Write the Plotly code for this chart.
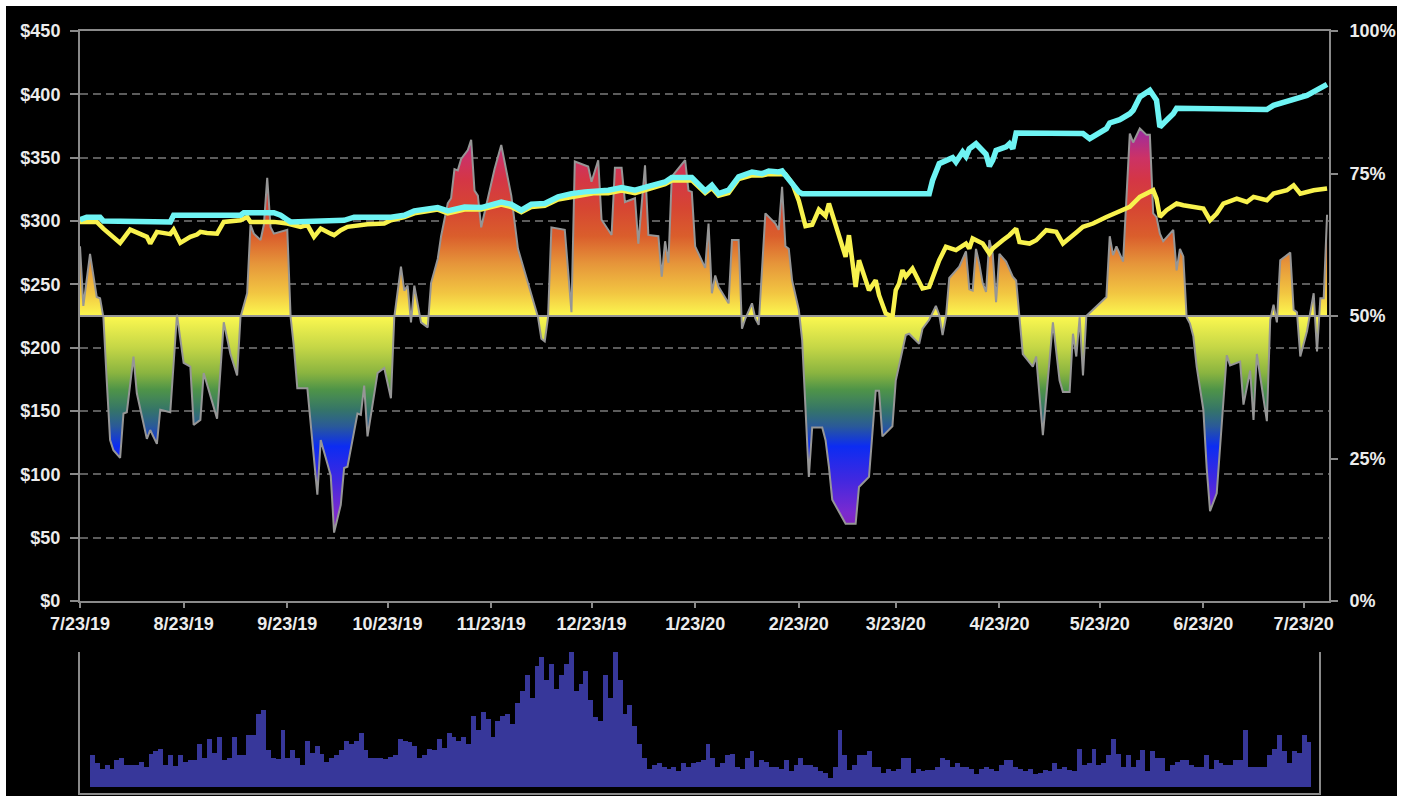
import pandas as pd
import plotly.graph_objects as go

# ---------------- data ----------------
START = pd.Timestamp("2019-07-23")
END = pd.Timestamp("2020-07-30 14:00")

# oscillator (plotted on the $ scale, 50% = $225), day offsets from 7/23/19
osc_day = [0, 1, 3, 5, 6, 7, 8, 9, 10, 12, 13, 14, 16, 17, 20, 21, 23, 24, 27, 29,
           31, 33, 34, 36, 37, 41, 43, 45, 47, 48, 50, 51, 52, 54, 55, 56, 57, 58, 62, 63,
           64, 65, 68, 70, 71, 72, 75, 76, 78, 79, 80, 83, 84, 85, 86, 89, 91, 93, 94, 96,
           97, 98, 99, 100, 102, 104, 105, 107, 108, 110, 111, 112, 113, 114, 116, 117, 118, 119, 120, 122,
           124, 126, 129, 131, 134, 137, 138, 139, 140, 141, 145, 147, 148, 152, 153, 155, 156, 159, 160, 162,
           163, 166, 167, 169, 170, 173, 174, 175, 176, 177, 181, 182, 183, 184, 187, 188, 189, 190, 191, 194,
           195, 197, 198, 199, 201, 202, 203, 204, 205, 208, 209, 210, 211, 212, 213, 215, 216, 218, 219, 222,
           223, 224, 225, 229, 232, 233, 236, 238, 239, 240, 243, 244, 247, 248, 250, 251, 252, 254, 256, 257,
           258, 259, 260, 263, 265, 266, 267, 268, 269, 270, 271, 272, 273, 274, 275, 277, 279, 280, 281, 282,
           285, 286, 288, 291, 293, 294, 296, 297, 298, 299, 300, 301, 307, 308, 309, 310, 312, 314, 315, 317,
           319, 320, 321, 322, 323, 324, 327, 328, 329, 330, 331, 332, 333, 334, 336, 337, 338, 340, 343, 344,
           347, 348, 350, 351, 352, 355, 356, 357, 358, 359, 362, 363, 364, 365, 367, 369, 370, 371, 372, 373]
osc_val = [280, 233, 274, 240, 239, 224, 174, 127, 119, 113, 148, 149, 193, 164, 128, 135, 124, 151, 149, 226,
           188, 185, 139, 143, 180, 144, 220, 195, 178, 224, 243, 297, 290, 285, 297, 334, 295, 290, 293, 224,
           200, 168, 168, 109, 84, 127, 99, 54, 76, 105, 106, 148, 147, 170, 130, 180, 184, 160, 224, 264,
           245, 249, 220, 249, 220, 216, 251, 270, 288, 314, 318, 341, 340, 349, 356, 364, 324, 320, 295, 318,
           341, 360, 320, 278, 251, 224, 207, 205, 224, 295, 293, 228, 347, 343, 331, 348, 301, 289, 342, 342,
           315, 318, 282, 344, 289, 288, 256, 284, 267, 335, 348, 324, 323, 280, 263, 298, 243, 257, 248, 235,
           285, 285, 215, 223, 235, 223, 218, 264, 306, 298, 293, 327, 280, 278, 253, 230, 206, 98, 137, 137,
           127, 106, 80, 61, 61, 90, 98, 166, 166, 130, 138, 174, 210, 211, 206, 203, 215, 222, 233, 226,
           210, 224, 255, 264, 276, 246, 245, 278, 266, 251, 244, 285, 274, 236, 274, 268, 256, 253, 224, 195,
           185, 193, 131, 220, 174, 165, 165, 211, 193, 224, 178, 225, 240, 288, 273, 280, 268, 369, 362, 373,
           368, 368, 306, 303, 290, 284, 293, 261, 278, 272, 224, 219, 209, 185, 151, 105, 71, 85, 194, 186,
           189, 155, 182, 143, 195, 142, 222, 234, 220, 269, 275, 230, 228, 193, 213, 243, 197, 239, 239, 305]

# cyan series ($)
cyan_day = [0, 2, 6, 7, 27, 28, 48, 49, 58, 60, 62, 63, 79, 82, 93, 97, 100, 105, 107, 110,
            115, 120, 123, 126, 129, 132, 135, 139, 143, 147, 151, 154, 158, 162, 166, 170, 175, 177, 183, 187,
            189, 191, 194, 197, 201, 204, 206, 209, 210, 215, 216, 254, 255, 257, 259, 261, 262, 264, 265, 266,
            268, 269, 271, 272, 273, 274, 277, 278, 279, 280, 298, 300, 302, 304, 307, 308, 311, 314, 315, 317,
            319, 320, 322, 323, 325, 327, 328, 355, 357, 362, 367, 373]
cyan_val = [301, 303, 303, 300, 299.3, 304.5, 304.5, 306.5, 306.5, 304.5, 301, 299.3, 300.5, 303, 303, 304.5, 308, 309.8, 310.6, 308,
            311, 310.6, 313.2, 315, 313.2, 308.5, 313.2, 313.8, 319, 321.6, 323, 323.7, 324.3, 326.4, 324.3, 327.4, 330.8, 334.3, 334.3, 323.7,
            328.2, 321.6, 324.3, 334.8, 338.7, 337.4, 339.5, 338.7, 339.5, 323, 321.6, 321.6, 332, 345.3, 348, 350, 346.6, 354.5, 351, 357,
            361, 358.5, 352.7, 343.2, 348, 355.8, 358.5, 361, 357, 369.5, 369.5, 369, 365, 367.7, 372.9, 377.4, 380, 384.7, 387.4, 397.9,
            401, 403.2, 395.3, 374.2, 379.5, 384.7, 389, 388, 391.3, 395.3, 399.2, 407.9]

# yellow series ($)
yel_day = [0, 5, 7, 12, 15, 20, 21, 23, 27, 28, 30, 33, 35, 36, 38, 41, 43, 48, 50, 51,
           58, 62, 66, 68, 70, 72, 75, 76, 78, 80, 86, 91, 93, 97, 100, 105, 107, 110, 115, 120,
           123, 126, 129, 132, 135, 139, 143, 147, 151, 154, 158, 162, 166, 170, 175, 177, 183, 187, 189, 191,
           194, 197, 201, 204, 206, 209, 211, 213, 215, 217, 219, 221, 223, 224, 227, 229, 230, 232, 233, 235,
           236, 238, 239, 241, 243, 244, 245, 246, 247, 249, 252, 254, 257, 259, 262, 265, 266, 267, 270, 272,
           273, 276, 278, 280, 281, 284, 286, 289, 292, 294, 296, 298, 300, 303, 307, 312, 314, 317, 319, 321,
           322, 323, 325, 328, 330, 333, 336, 338, 340, 342, 346, 349, 351, 355, 357, 361, 363, 365, 369, 373]
yel_val = [299.3, 299.3, 294, 282.7, 293.2, 287.5, 282.2, 291.4, 289.6, 293.2, 282.7, 287.5, 289.3, 291.4, 290.6, 290, 299.3, 300.6, 303.2, 299.3,
           299.3, 298, 295.4, 297, 287.5, 294, 290, 288.8, 292.7, 295.4, 297.5, 298, 300.6, 303, 306, 308, 309, 306, 309, 309,
           311, 313, 311, 307, 311, 312, 317, 319, 321, 322, 322, 324, 322, 325, 329, 332, 332, 322, 326, 320,
           322, 333, 336, 336, 337, 337, 337, 330, 316, 296, 297, 309, 304, 313.8, 287.5, 271.7, 288.8, 248, 269, 253.3,
           245.4, 253.3, 241.4, 227, 224.4, 245.4, 250.6, 261.2, 256, 262.5, 246.7, 248, 269, 279.6, 277, 282.2, 278.3, 286.2, 282.2, 274.3,
           278.3, 284.8, 288.8, 294, 283.5, 282.2, 284.8, 292.7, 291.4, 282.2, 286.2, 291, 295.4, 298, 303.2, 308.5, 311.1, 319, 321.6, 324.3,
           317.7, 303.2, 308.5, 313.8, 312.4, 311.1, 309.8, 300.6, 305.9, 313.8, 317.7, 315, 319, 316.4, 321.6, 324.3, 328.2, 321.6, 324.3, 325.6]

# daily volume (relative units), one value per trading day from 7/23/19
volume = [95, 73, 55, 67, 55, 80, 88, 67, 67, 67, 75, 60, 100, 108, 115, 67, 95, 62, 95, 75,
          80, 82, 130, 88, 143, 102, 150, 82, 88, 150, 95, 95, 157, 157, 220, 232, 110, 88, 85, 172,
          88, 110, 88, 67, 137, 102, 122, 100, 75, 88, 95, 110, 137, 130, 138, 163, 110, 88, 88, 88,
          83, 90, 97, 144, 137, 135, 122, 88, 95, 115, 110, 144, 117, 163, 150, 138, 150, 130, 212, 172,
          226, 205, 150, 197, 212, 218, 190, 253, 288, 335, 268, 362, 390, 320, 370, 295, 335, 368, 404, 288,
          308, 348, 260, 210, 198, 335, 268, 404, 320, 218, 245, 183, 128, 88, 55, 67, 73, 60, 55, 60,
          48, 73, 60, 73, 75, 82, 128, 88, 60, 73, 95, 100, 60, 55, 88, 108, 60, 80, 75, 60,
          60, 55, 80, 48, 65, 88, 65, 67, 60, 48, 42, 28, 60, 172, 95, 52, 67, 95, 95, 108,
          60, 60, 42, 53, 48, 55, 88, 88, 42, 55, 48, 52, 52, 60, 88, 80, 60, 73, 60, 60,
          55, 40, 53, 60, 53, 48, 67, 80, 80, 60, 55, 48, 53, 40, 42, 52, 48, 73, 55, 60,
          52, 48, 115, 67, 73, 115, 67, 73, 95, 143, 100, 60, 95, 60, 80, 110, 48, 108, 88, 88,
          48, 67, 75, 80, 80, 67, 60, 60, 95, 55, 80, 73, 67, 67, 80, 82, 172, 60, 60, 60,
          60, 95, 115, 157, 108, 73, 108, 102, 157, 135]

MID_LEVEL = 225  # 50% line on the $ scale

left_tick_vals = [0, 50, 100, 150, 200, 250, 300, 350, 400, 450]
left_tick_text = ["$0", "$50", "$100", "$150", "$200", "$250", "$300", "$350", "$400", "$450"]
right_tick_vals = [0, 25, 50, 75, 100]
right_tick_text = ["0%", "25%", "50%", "75%", "100%"]
x_tick_dates = ["2019-07-23", "2019-08-23", "2019-09-23", "2019-10-23", "2019-11-23", "2019-12-23",
                "2020-01-23", "2020-02-23", "2020-03-23", "2020-04-23", "2020-05-23", "2020-06-23", "2020-07-23"]
x_tick_text = ["7/23/19", "8/23/19", "9/23/19", "10/23/19", "11/23/19", "12/23/19",
               "1/23/20", "2/23/20", "3/23/20", "4/23/20", "5/23/20", "6/23/20", "7/23/20"]
holidays = ["2019-09-02", "2019-11-28", "2019-12-25", "2020-01-01", "2020-01-20",
            "2020-02-17", "2020-04-10", "2020-05-25", "2020-07-03"]

# ---------------- build ----------------
def to_dates(days):
    return [START + pd.Timedelta(days=d) for d in days]

osc_dates = to_dates(osc_day)
cyan_dates = to_dates(cyan_day)
yel_dates = to_dates(yel_day)
trading_days = pd.bdate_range(START, "2020-07-31", freq="C", holidays=holidays)
vol_cats = [d.strftime("%Y-%m-%d") for d in trading_days[:len(volume)]]

GRAY = "#969696"
AXIS = "#8a8a8a"
CYAN = "#6ef4f4"
YELLOW = "#f8f24e"
BAR = "#37379a"
TXT = "#ececec"
GRAD = [
    [0.0, "#8228c0"], [0.1356, "#8228c0"], [0.1556, "#7a2ad0"], [0.2133, "#4028e0"],
    [0.2711, "#0c2cf2"], [0.3067, "#2a5a98"], [0.3356, "#357568"], [0.3711, "#4f9448"],
    [0.40, "#8ab440"], [0.4444, "#c4d646"], [0.50, "#fcf850"], [0.54, "#f2c642"],
    [0.5911, "#e6963a"], [0.64, "#da5e2c"], [0.6889, "#d64632"], [0.74, "#d43646"],
    [0.7778, "#cc3266"], [0.8267, "#9c2ca0"], [1.0, "#9c2ca0"],
]

fig = go.Figure()
# invisible base for the fill
fig.add_trace(go.Scatter(x=[osc_dates[0], osc_dates[-1]], y=[MID_LEVEL, MID_LEVEL], mode="lines",
                         line=dict(width=0, color="rgba(0,0,0,0)"), hoverinfo="skip", showlegend=False))
fig.add_trace(go.Scatter(x=osc_dates, y=osc_val, mode="lines", line=dict(color=GRAY, width=2),
                         fill="tonexty",
                         fillgradient=dict(type="vertical", colorscale=GRAD, start=0, stop=450),
                         showlegend=False))
# 50% line
fig.add_trace(go.Scatter(x=[START, END], y=[MID_LEVEL, MID_LEVEL], mode="lines",
                         line=dict(color=GRAY, width=2), hoverinfo="skip", showlegend=False))
fig.add_trace(go.Scatter(x=yel_dates, y=yel_val, mode="lines", line=dict(color=YELLOW, width=4.5),
                         showlegend=False))
fig.add_trace(go.Scatter(x=cyan_dates, y=cyan_val, mode="lines", line=dict(color=CYAN, width=5.5),
                         showlegend=False))
# right axis carrier
fig.add_trace(go.Scatter(x=[START], y=[50], yaxis="y2", mode="markers", marker=dict(opacity=0),
                         hoverinfo="skip", showlegend=False))
# volume
fig.add_trace(go.Bar(x=vol_cats, y=volume, xaxis="x2", yaxis="y3", marker=dict(color=BAR, line=dict(width=0)),
                     showlegend=False))

tickfont = dict(family="Arial", size=18, color=TXT, weight="bold")
W, H = 1402, 796
L, R, T, B = 80, 73, 31, 3
pw, ph = W - L - R, H - T - B

def px_x(p):
    return (p - L) / pw

def px_y(p):
    return (H - B - p) / ph

fig.update_layout(
    width=W, height=H, autosize=False,
    margin=dict(l=L, r=R, t=T, b=B, pad=0, autoexpand=False),
    paper_bgcolor="white", plot_bgcolor="black",
    bargap=0,
    xaxis=dict(type="date", domain=[0, 1], anchor="y", range=[START, END], automargin=False,
               tickmode="array", tickvals=x_tick_dates, ticktext=x_tick_text,
               ticks="outside", ticklen=5, tickcolor=AXIS, tickwidth=2,
               showline=True, linecolor=AXIS, linewidth=2, mirror=True,
               showgrid=False, zeroline=False, tickfont=tickfont),
    yaxis=dict(domain=[px_y(601), 1], anchor="x", range=[0, 450], automargin=False,
               tickmode="array", tickvals=left_tick_vals, ticktext=left_tick_text,
               ticks="outside", ticklen=8, tickcolor=AXIS, tickwidth=2,
               showline=True, linecolor=AXIS, linewidth=2,
               showgrid=True, gridcolor="#5c5c5c", gridwidth=1.5, griddash="8px,5px",
               zeroline=False, tickfont=tickfont, ticklabelstandoff=6),
    yaxis2=dict(overlaying="y", side="right", anchor="x", range=[0, 100], automargin=False,
                tickmode="array", tickvals=right_tick_vals, ticktext=right_tick_text,
                ticks="outside", ticklen=7, tickcolor=AXIS, tickwidth=2,
                showline=True, linecolor=AXIS, linewidth=2,
                showgrid=False, zeroline=False, tickfont=tickfont, ticklabelstandoff=8),
    xaxis2=dict(type="category", domain=[0, px_x(1319)], anchor="y3", range=[-2.54, 251.05],
                automargin=False,
                showticklabels=False, ticks="", showline=True, linecolor=AXIS, linewidth=2,
                showgrid=False, zeroline=False),
    yaxis3=dict(domain=[0, px_y(652)], anchor="x2", range=[-18, 405], automargin=False,
                showticklabels=False, ticks="", showline=True, linecolor=AXIS, linewidth=2,
                mirror=True, showgrid=False, zeroline=False),
    shapes=[dict(type="rect", xref="paper", yref="paper", layer="below",
                 x0=px_x(6), x1=px_x(1397), y0=-0.06, y1=px_y(6),
                 fillcolor="black", line=dict(width=0))],
)

fig.write_html("out.html", include_plotlyjs=True,
               config={"displayModeBar": False, "responsive": False},
               post_script="document.body.style.margin='0';document.body.style.overflow='hidden';")
